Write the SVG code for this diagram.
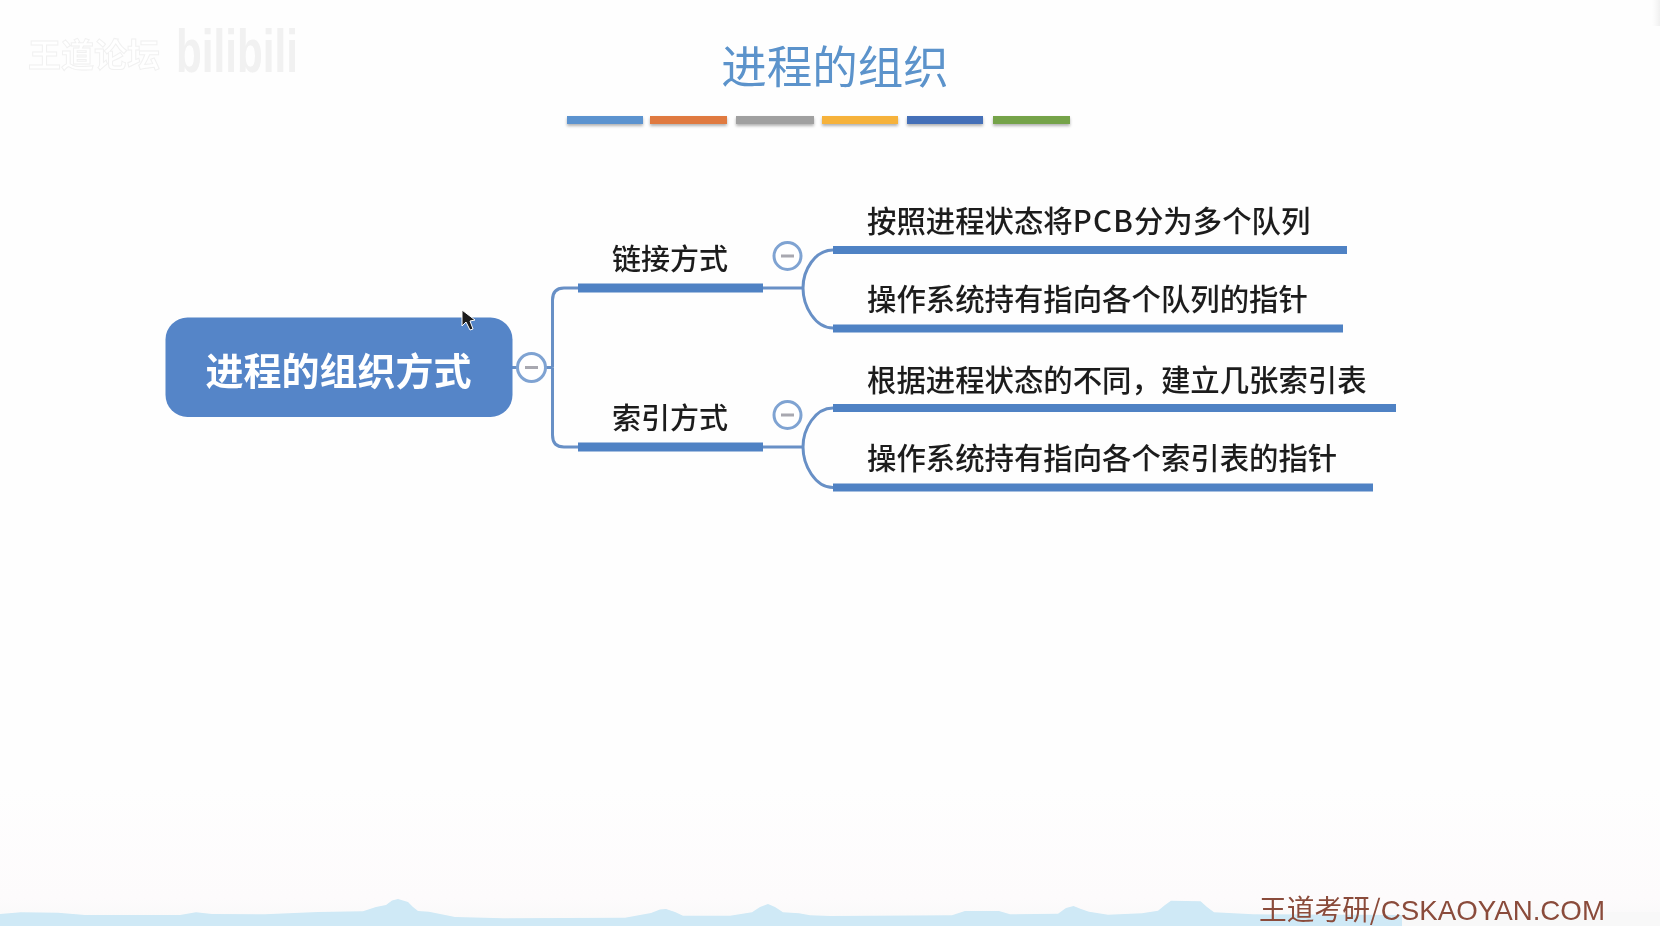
<svg xmlns="http://www.w3.org/2000/svg" width="1660" height="926" viewBox="0 0 1660 926">
<defs>
<style>
.cjk{font-family:"Noto Sans CJK SC","Liberation Sans",sans-serif}
.leaf{font-size:29.4px;fill:#1c1c1c;font-weight:500}
.branch{font-size:29px;fill:#1c1c1c;font-weight:500;text-anchor:middle}
.thin{fill:none;stroke:#6890c6;stroke-width:3}
.bar{fill:#4f82c4}
.toggle circle{fill:#fff;stroke:#7fa3d2;stroke-width:3}
.toggle rect{fill:#a8a8b0}
</style>
<linearGradient id="bg" x1="0" y1="0" x2="0" y2="1"><stop offset="0.85" stop-color="#fefefe"/><stop offset="0.97" stop-color="#fdfbfc"/><stop offset="1" stop-color="#f8f8f8"/></linearGradient>
<linearGradient id="edge" x1="0" y1="0" x2="1" y2="0"><stop offset="0" stop-color="#f4f4f4" stop-opacity="0"/><stop offset="1" stop-color="#f0f0f0"/></linearGradient>
<filter id="sh" x="-5%" y="-50%" width="110%" height="220%"><feDropShadow dx="0" dy="2" stdDeviation="1.5" flood-color="#000" flood-opacity="0.3"/></filter>
<filter id="soft" x="0" y="0" width="100%" height="100%"><feGaussianBlur stdDeviation="0.55"/></filter>
</defs>
<rect width="1660" height="926" fill="url(#bg)"/>
<rect x="1402" y="912" width="258" height="14" fill="#f8f8f8"/>
<rect x="1652" y="0" width="8" height="26" fill="url(#edge)"/>
<g filter="url(#soft)">
<polygon id="hills" fill="#cfe9f6" points="0,914 21,912.300 58,912.700 85,915 180,915 196,912.300 212,914 265,914.300 318,912 363,911.300 376,907 386,905 392,900.500 398,899 408,902 413,907 418,911 429,911.700 455,917 503,918.300 625,917.700 651,913 660,909.500 666,909 675,912 683,915.700 730,915.700 752,912.300 760,907 768,904 775,907 783,912.300 799,913.300 810,915.300 830,916 952,915.300 965,911 999,911 1010,914.300 1058,913.700 1066,908 1073.500,906 1081,909 1089,911.700 1108,914.700 1142,913.300 1158,910.700 1165,905 1171,900.700 1200.600,901.300 1207,907 1214,912.300 1253,914.300 1402,915 1402,926 0,926"/>
<g id="watermark">
<text x="28" y="67" class="cjk" font-size="33" font-weight="700" fill="#ffffff" stroke="#f1f1f1" stroke-width="1">王道论坛</text>
<text x="176" y="72" font-family="Liberation Sans,sans-serif" font-size="62" font-weight="700" fill="#f1f1f1" textLength="122" lengthAdjust="spacingAndGlyphs">bilibili</text>
</g>
<g id="title">
<text x="835" y="84" text-anchor="middle" class="cjk" font-size="45.500" fill="#5b93cb">进程的组织</text>
<g filter="url(#sh)">
<rect x="567" y="116" width="76" height="8" fill="#5b93cf"/>
<rect x="650" y="116" width="77" height="8" fill="#e07a3f"/>
<rect x="736" y="116" width="78" height="8" fill="#a0a0a0"/>
<rect x="822" y="116" width="76" height="8" fill="#f6b23a"/>
<rect x="907" y="116" width="76" height="8" fill="#4470b8"/>
<rect x="993" y="116" width="77" height="8" fill="#74a348"/>
</g>
</g>
<g id="connectors">
<path class="thin" d="M512 367.500H552.500M552.500 367.500V300Q552.500 288 564 288H578"/>
<path class="thin" d="M552.500 367.500V435Q552.500 447 564 447H578"/>
<path class="thin" d="M763 288H803"/>
<path class="thin" d="M803 288C803 270 815 250 833 250"/>
<path class="thin" d="M803 288C803 306 815 328 833 328"/>
<path class="thin" d="M763 447H803"/>
<path class="thin" d="M803 447C803 429 815 408 833 408"/>
<path class="thin" d="M803 447C803 465 815 487.500 833 487.500"/>
</g>
<g id="root">
<rect x="165.500" y="317.500" width="347" height="99.500" rx="22" fill="#5585c8"/>
<text x="338.500" y="385" text-anchor="middle" class="cjk" font-size="38" font-weight="700" fill="#ffffff">进程的组织方式</text>
</g>
<g id="toggle-root" class="toggle"><circle cx="531.500" cy="367.500" r="14"/><rect x="525" y="366" width="13" height="3"/></g>
<g id="branch-link">
<rect class="bar" x="578" y="283.500" width="185" height="9"/>
<text x="670" y="269.500" class="cjk branch">链接方式</text>
</g>
<g id="toggle-link" class="toggle"><circle cx="787.500" cy="256" r="13.500"/><rect x="781" y="254.500" width="13" height="3"/></g>
<g id="branch-index">
<rect class="bar" x="578" y="442.500" width="185" height="9"/>
<text x="670" y="428.500" class="cjk branch">索引方式</text>
</g>
<g id="toggle-index" class="toggle"><circle cx="787.500" cy="415" r="13.500"/><rect x="781" y="413.500" width="13" height="3"/></g>
<g id="leaf-1">
<rect class="bar" x="833" y="246" width="514" height="8"/>
<text x="867" y="232" class="cjk leaf">按照进程状态将<tspan letter-spacing="1.200">PCB</tspan>分为多个队列</text>
</g>
<g id="leaf-2">
<rect class="bar" x="833" y="324.500" width="510" height="8"/>
<text x="867" y="310" class="cjk leaf">操作系统持有指向各个队列的指针</text>
</g>
<g id="leaf-3">
<rect class="bar" x="833" y="404" width="563" height="8"/>
<text x="867" y="391" class="cjk leaf">根据进程状态的不同，建立几张索引表</text>
</g>
<g id="leaf-4">
<rect class="bar" x="833" y="483.500" width="540" height="8"/>
<text x="867" y="469" class="cjk leaf">操作系统持有指向各个索引表的指针</text>
</g>
<polygon id="cursor" points="462,310 462,326 466,322 470,330 473,329 470,321 475,320" fill="#1a1a1a" stroke="#fff" stroke-width="1"/>
<text id="footer" x="1259" y="920" class="cjk" font-size="28" fill="#8a4b3a" textLength="346" lengthAdjust="spacingAndGlyphs">王道考研/<tspan font-family="Liberation Sans,sans-serif">CSKAOYAN.COM</tspan></text>
</g>
</svg>
